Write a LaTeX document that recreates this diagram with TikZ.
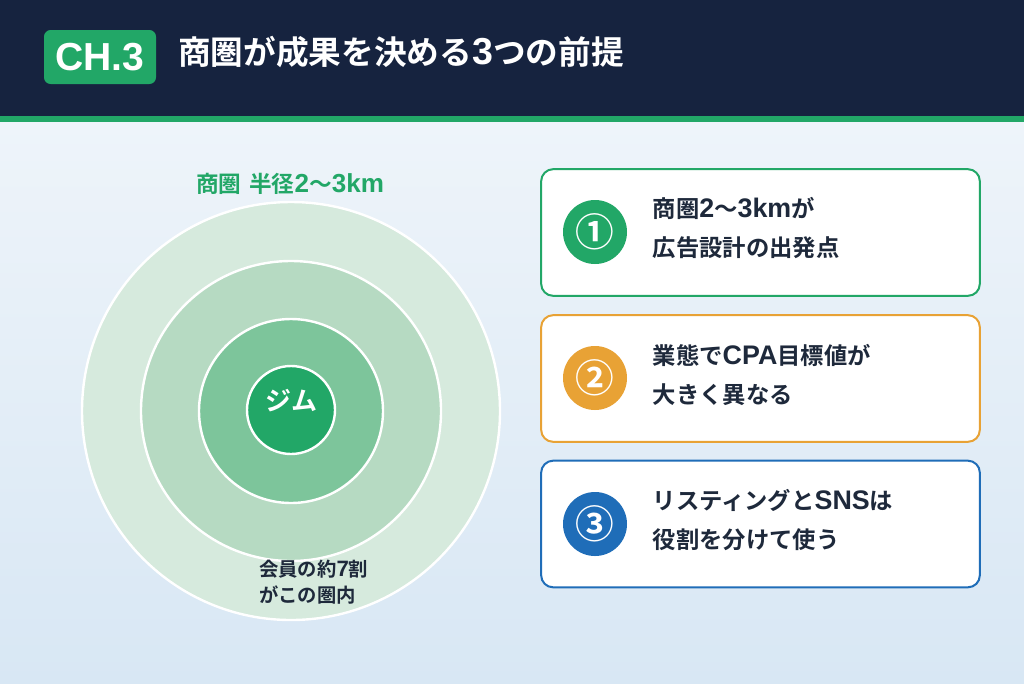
\documentclass[tikz,border=0pt]{standalone}
\usepackage{fontspec}
\setmainfont{Noto Sans CJK JP}[BoldFont={Noto Sans CJK JP Bold}]
\newfontfamily\latinfont{Liberation Sans}[Scale=1.15]
\newcommand\lat[1]{{\latinfont\bfseries #1}}
\usetikzlibrary{positioning}
\definecolor{headnavy}{HTML}{16233F}
\definecolor{areagreen}{HTML}{22A767}
\definecolor{ringone}{HTML}{D6EADD}
\definecolor{ringtwo}{HTML}{B6DAC2}
\definecolor{ringthree}{HTML}{7DC59B}
\definecolor{pointorange}{HTML}{E8A235}
\definecolor{pointblue}{HTML}{1F6DB8}
\definecolor{textdark}{HTML}{1E293B}
\definecolor{bgtop}{HTML}{EEF4FA}
\definecolor{bgbottom}{HTML}{D8E7F4}

\tikzset{
  ring/.style={circle, draw=white, line width=1.8pt, inner sep=0pt, outer sep=0pt},
  card/.style={rectangle, rounded corners=9pt, fill=white, line width=1.5pt,
    minimum width=329pt, minimum height=95pt, inner sep=0pt},
  numdot/.style={circle, minimum size=48pt, inner sep=0pt, text=white,
    font=\bfseries\fontsize{29pt}{29pt}\selectfont},
  cardtext/.style={anchor=west, align=left, text=textdark,
    font=\bfseries\fontsize{17.5pt}{29pt}\selectfont}
}

\begin{document}
\begin{tikzpicture}[x=0.75pt, y=-0.75pt]
    \useasboundingbox (0,0) rectangle (1024,683);

    % Background and header band
    \shade[top color=bgtop, bottom color=bgbottom] (0,122) rectangle (1024,683);
    \fill[headnavy] (0,0) rectangle (1024,116);
    \fill[areagreen] (0,116) rectangle (1024,122);

    \node[fill=areagreen, rounded corners=5pt, minimum width=84pt, minimum height=40.5pt,
        inner sep=0pt, text=white, font=\latinfont\bfseries\fontsize{25.5pt}{25.5pt}\selectfont]
        (badge) at (100,57) {CH.3};
    \node[anchor=west, text=white, inner sep=0pt, font=\bfseries\fontsize{24.5pt}{24.5pt}\selectfont]
        (title) at (178,52) {商圏が成果を決める\lat{3}つの前提};

    % Trade area rings
    \node[ring, fill=ringone, minimum size=313.5pt] (outer) at (291,411) {};
    \node[ring, fill=ringtwo, minimum size=225pt] (middle) at (291,411) {};
    \node[ring, fill=ringthree, minimum size=138pt] (inner) at (291,411) {};
    \node[ring, fill=areagreen, minimum size=66pt] (gym) at (291,410) {};
    \node[text=white, inner sep=0pt, font=\bfseries\fontsize{19.5pt}{19.5pt}\selectfont]
        (gymlabel) at (291,401) {ジム};

    \node[text=areagreen, inner sep=0pt, font=\bfseries\fontsize{17pt}{17pt}\selectfont]
        (arealabel) at (290,184) {商圏\hspace{0.35em}半径\lat{2}〜\lat{3km}};
    \node[anchor=north west, align=left, text=textdark, inner sep=0pt,
        font=\bfseries\fontsize{14.5pt}{19.5pt}\selectfont]
        (share) at (259,560) {会員の約\lat{7}割\\がこの圏内};

    % Three premises
    \node[card, draw=areagreen] (card1) at (760.5,232.5) {};
    \node[card, draw=pointorange] (card2) at (760.5,378.5) {};
    \node[card, draw=pointblue] (card3) at (760.5,524) {};

    \node[numdot, fill=areagreen] (num1) at (595,232) {①};
    \node[numdot, fill=pointorange] (num2) at (595,378) {②};
    \node[numdot, fill=pointblue] (num3) at (595,524) {③};

    \node[cardtext] (text1) at (648,228) {商圏\lat{2}〜\lat{3km}が\\広告設計の出発点};
    \node[cardtext] (text2) at (648,375) {業態で\lat{CPA}目標値が\\大きく異なる};
    \node[cardtext] (text3) at (648,520) {リスティングと\lat{SNS}は\\役割を分けて使う};
\end{tikzpicture}
\end{document}
